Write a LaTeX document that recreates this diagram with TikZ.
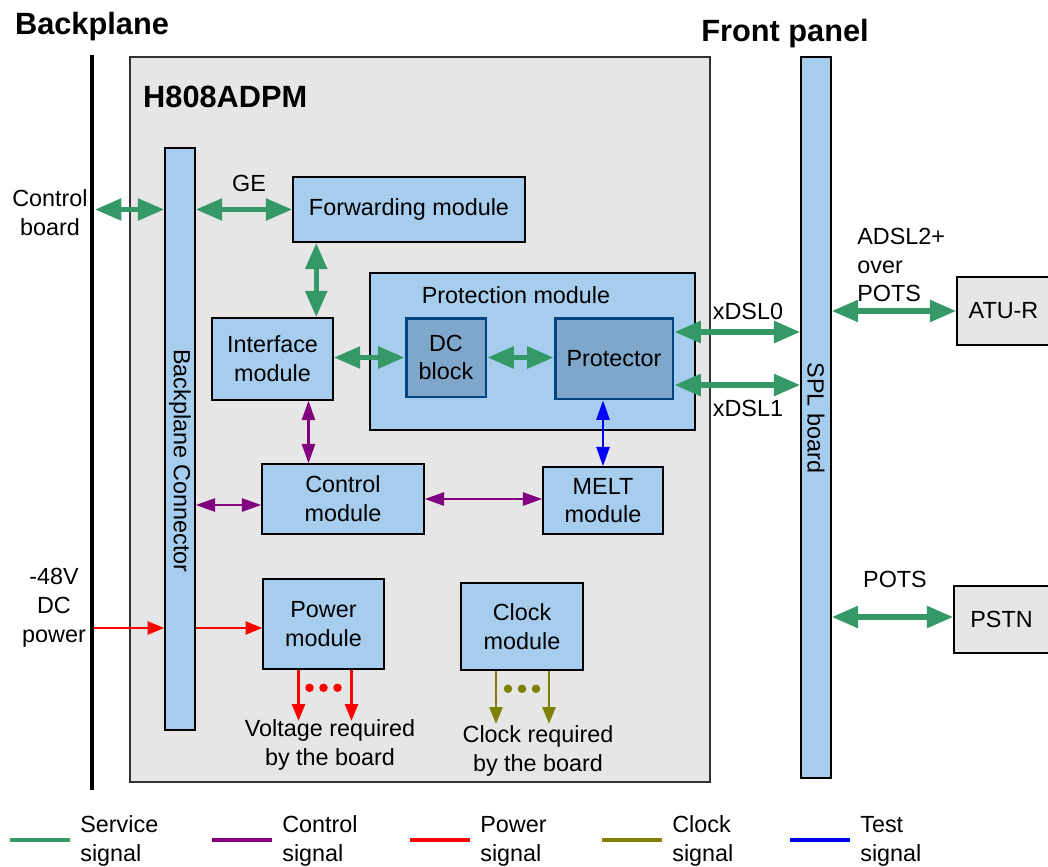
\documentclass[tikz,border=0pt]{standalone}
\usepackage{fontspec}
\setmainfont{Liberation Sans}
\usepackage{tikz}
\usetikzlibrary{positioning,arrows.meta,calc}
\definecolor{boxblue}{RGB}{166,205,237}
\definecolor{boxgray}{RGB}{230,230,230}
\definecolor{dcblue}{RGB}{127,167,204}
\definecolor{dcedge}{RGB}{0,68,128}
\definecolor{svcgreen}{RGB}{52,153,102}
\definecolor{ctlpurple}{RGB}{128,0,128}
\definecolor{clkolive}{RGB}{128,128,0}

\begin{document}
\begin{tikzpicture}[x=0.02cm, y=-0.02cm,
        font=\fontsize{13.3}{16.4}\selectfont,
        blk/.style={draw=black, line width=0.9pt, fill=boxblue, align=center, inner sep=0pt},
        gry/.style={draw=black, line width=0.9pt, fill=boxgray, align=center, inner sep=0pt},
        inner/.style={draw=dcedge, line width=1.7pt, fill=dcblue, align=center, inner sep=0pt},
        title/.style={font=\fontsize{17.5}{20}\selectfont\bfseries},
        txt/.style={align=center, inner sep=1pt},
        svc/.style={{Triangle[length=15pt,width=12pt]}-{Triangle[length=15pt,width=12pt]}, line width=3pt, draw=svcgreen},
        ctl/.style={{Triangle[length=11pt,width=7.5pt]}-{Triangle[length=11pt,width=7.5pt]}, line width=1.2pt, draw=ctlpurple},
        tst/.style={{Triangle[length=11pt,width=7.5pt]}-{Triangle[length=11pt,width=7.5pt]}, line width=1.2pt, draw=blue},
        pwr/.style={-{Triangle[length=9.5pt,width=7.5pt]}, line width=1.2pt, draw=red},
        clk/.style={-{Triangle[length=9.5pt,width=7.5pt]}, line width=1.2pt, draw=clkolive}
      ]
        \useasboundingbox (0,0) rectangle (1048,866);

        % frames
        \node[gry, draw=black!80, minimum width=11.6cm, minimum height=14.5cm] (adpm) at (420,419.5) {};
        \draw[line width=2.8pt] (92,55) coordinate (bpt) -- (92,790) coordinate (bpb);
        \node[title] (bptitle) at (92,27) {Backplane};
        \node[title] (fptitle) at (785,34) {Front panel};
        \node[title, anchor=west] (adpmtitle) at (137,97) {H808ADPM};

        % bars
        \node[blk, minimum width=0.6cm, minimum height=11.64cm] (conn) at (180,439) {};
        \node[rotate=-90] (conntxt) at (180,461) {Backplane Connector};
        \node[blk, minimum width=0.6cm, minimum height=14.42cm] (spl) at (816,417.5) {};
        \node[rotate=-90] (spltxt) at (816,418) {SPL board};

        % modules
        \node[blk, minimum width=4.64cm, minimum height=1.3cm] (fwd) at (409,209.5) {Forwarding module};
        \node[blk, minimum width=2.42cm, minimum height=1.64cm] (ifc) at (272.5,359) {Interface\\module};
        \node[blk, minimum width=6.5cm, minimum height=3.14cm] (prm) at (532.5,351.5) {};
        \node (prmtxt) at (516,295) {Protection module};
        \node[inner, minimum width=1.6cm, minimum height=1.58cm] (dc) at (446,357.5) {DC\\block};
        \node[inner, minimum width=2.36cm, minimum height=1.62cm] (prot) at (614,358.5) {Protector};
        \node[blk, minimum width=3.24cm, minimum height=1.4cm] (ctlm) at (343,499) {Control\\module};
        \node[blk, minimum width=2.4cm, minimum height=1.34cm] (melt) at (603,500.5) {MELT\\module};
        \node[blk, minimum width=2.42cm, minimum height=1.8cm] (pwrm) at (323.5,624) {Power\\module};
        \node[blk, minimum width=2.44cm, minimum height=1.74cm] (clkm) at (522,626.5) {Clock\\module};
        \node[gry, minimum width=1.96cm, minimum height=1.36cm] (atu) at (1006,311) {ATU-R\hspace*{0.1cm}};
        \node[gry, minimum width=1.96cm, minimum height=1.34cm] (pstn) at (1003,619.5) {PSTN\hspace*{0.06cm}};

        % service signals
        \draw[svc] ($(bpt |- fwd)+(3,0)$) -- (conn.west |- fwd);
        \draw[svc] (conn.east |- fwd) -- (fwd.west);
        \node (ge) at (249,183) {GE};
        \coordinate (f1) at ($(fwd.south west)+(24,0)$);
        \draw[svc] (f1) -- (f1 |- ifc.north);
        \draw[svc] (ifc.east |- dc) -- (dc.west);
        \draw[svc] (dc.east) -- (prot.west |- dc);
        \coordinate (x0) at ($(prot.east)+(0,-26.5)$);
        \coordinate (x1) at ($(prot.east)+(0,26.5)$);
        \draw[svc] (x0) -- (x0 -| spl.west);
        \draw[svc] (x1) -- (x1 -| spl.west);
        \node (xdsl0) at (748,311) {xDSL0};
        \node (xdsl1) at (748,408) {xDSL1};
        \draw[svc] (spl.east |- atu) -- (atu.west);
        \node[anchor=west, align=left, inner sep=0pt] (adsl) at (857,265) {ADSL2+\\over\\POTS};
        \draw[svc] ($(spl.east |- pstn)+(0,-2.5)$) -- ($(pstn.west)+(0,-2.5)$);
        \node (pots) at (895,579) {POTS};
        \node[txt] (cb) at (50,213) {Control\\board};

        % control and test signals
        \coordinate (i1) at ($(ifc.south)+(36,0)$);
        \draw[ctl] (i1) -- (i1 |- ctlm.north);
        \coordinate (c1) at ($(ctlm.west)+(0,6)$);
        \draw[ctl] (c1 -| conn.east) -- (c1);
        \draw[ctl] (ctlm.east) -- (ctlm.east -| melt.west);
        \draw[tst] (melt.north |- prot.south) -- (melt.north);

        % power and clock
        \node[txt] (dcpwr) at (54,608) {-48V\\DC\\power};
        \coordinate (p0) at ($(pwrm.west)+(0,4)$);
        \draw[pwr] ($(p0 -| bpt)+(2,0)$) -- (p0 -| conn.west);
        \draw[pwr] (p0 -| conn.east) -- (p0);
        \draw[pwr] ($(pwrm.south)+(-25,0)$) -- ++(0,51);
        \draw[pwr] ($(pwrm.south)+(28,0)$) -- ++(0,51);
        \foreach \dx in {-14,0,14}
          \fill[red] ($(pwrm.south)+(\dx,18)$) circle[radius=0.085cm];
        \node[txt] (vreq) at (330,745) {Voltage required\\by the board};
        \draw[clk] ($(clkm.south)+(-26,0)$) -- ++(0,53);
        \draw[clk] ($(clkm.south)+(27,0)$) -- ++(0,53);
        \foreach \dx in {-14,0,14}
          \fill[clkolive] ($(clkm.south)+(\dx,18)$) circle[radius=0.085cm];
        \node[txt] (creq) at (538,751) {Clock required\\by the board};

        % legend
        \foreach \x/\c/\t in {10/svcgreen/Service, 212/ctlpurple/Control, 410/red/Power, 602/clkolive/Clock, 790/blue/Test}{
          \draw[\c, line width=1.9pt] (\x,840) -- ++(60,0);
          \node[anchor=west, align=left, inner sep=0pt] (leg\t) at (\x+70,841) {\t\\signal};
        }
      \end{tikzpicture}
\end{document}
